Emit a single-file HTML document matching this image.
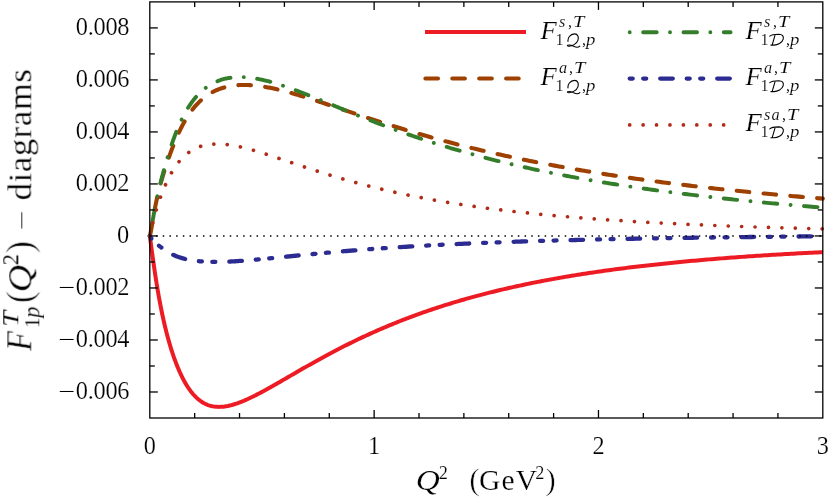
<!DOCTYPE html>
<html><head><meta charset="utf-8"><title>chart</title><style>html,body{margin:0;padding:0;background:#fff}svg{display:block}</style></head><body>
<svg width="831" height="499" viewBox="0 0 831 499">
<rect width="831" height="499" fill="#fff"/>
<g fill="none" stroke-linejoin="round">
<path d="M149.80,235.96 L149.80,235.98 L149.81,236.03 L149.82,236.13 L149.84,236.27 L149.87,236.44 L149.90,236.65 L149.93,236.90 L149.97,237.20 L150.02,237.53 L150.07,237.90 L150.13,238.31 L150.19,238.76 L150.26,239.24 L150.33,239.77 L150.41,240.35 L150.49,240.96 L150.58,241.61 L150.68,242.30 L150.78,243.03 L150.88,243.81 L150.99,244.62 L151.11,245.47 L151.23,246.37 L151.36,247.30 L151.49,248.28 L151.63,249.29 L151.77,250.34 L151.92,251.43 L152.07,252.56 L152.23,253.72 L152.40,254.92 L152.57,256.16 L152.74,257.43 L152.92,258.73 L153.11,260.07 L153.30,261.44 L153.50,262.83 L153.70,264.26 L153.91,265.72 L154.12,267.20 L154.34,268.71 L154.57,270.24 L154.80,271.79 L155.03,273.37 L155.27,274.97 L155.52,276.58 L155.77,278.22 L156.03,279.87 L156.29,281.53 L156.56,283.21 L156.83,284.90 L157.11,286.61 L157.39,288.32 L157.68,290.04 L157.98,291.77 L158.28,293.50 L158.58,295.24 L158.89,296.99 L159.21,298.73 L159.53,300.48 L159.86,302.23 L160.19,303.99 L160.53,305.74 L160.87,307.49 L161.22,309.23 L161.57,310.98 L161.93,312.72 L162.30,314.46 L162.67,316.19 L163.04,317.91 L163.42,319.64 L163.81,321.35 L164.20,323.06 L164.60,324.76 L165.00,326.45 L165.41,328.13 L165.82,329.81 L166.24,331.47 L166.67,333.13 L167.10,334.78 L167.53,336.41 L167.97,338.04 L168.42,339.65 L168.87,341.26 L169.33,342.85 L169.79,344.43 L170.26,346.00 L170.73,347.55 L171.21,349.09 L171.69,350.62 L172.18,352.13 L172.68,353.63 L173.18,355.12 L173.68,356.59 L174.19,358.05 L174.71,359.49 L175.23,360.91 L175.76,362.32 L176.29,363.71 L176.83,365.08 L177.37,366.44 L177.92,367.78 L178.47,369.10 L179.03,370.40 L179.60,371.69 L180.17,372.95 L180.74,374.19 L181.33,375.42 L181.91,376.62 L182.50,377.81 L183.10,378.97 L183.70,380.11 L184.31,381.23 L184.93,382.32 L185.54,383.40 L186.17,384.45 L186.80,385.48 L187.43,386.49 L188.07,387.47 L188.72,388.43 L189.37,389.37 L190.03,390.28 L190.69,391.17 L191.36,392.03 L192.03,392.87 L192.71,393.69 L193.39,394.48 L194.08,395.24 L194.78,395.98 L195.48,396.70 L196.18,397.39 L196.89,398.05 L197.61,398.69 L198.33,399.31 L199.06,399.90 L199.79,400.46 L200.53,401.00 L201.27,401.52 L202.02,402.01 L202.77,402.48 L203.53,402.92 L204.30,403.34 L205.07,403.73 L205.85,404.10 L206.63,404.44 L207.41,404.76 L208.20,405.06 L209.00,405.34 L209.80,405.59 L210.61,405.81 L211.43,406.02 L212.25,406.20 L213.07,406.36 L213.90,406.50 L214.73,406.62 L215.58,406.71 L216.42,406.78 L217.27,406.84 L218.13,406.87 L218.99,406.88 L219.86,406.87 L220.73,406.84 L221.61,406.79 L222.49,406.73 L223.38,406.64 L224.28,406.54 L225.18,406.41 L226.08,406.27 L226.99,406.11 L227.91,405.94 L228.83,405.74 L229.76,405.53 L230.69,405.31 L231.63,405.06 L232.57,404.80 L233.52,404.53 L234.48,404.24 L235.44,403.94 L236.40,403.62 L237.37,403.29 L238.35,402.94 L239.33,402.58 L240.31,402.20 L241.31,401.82 L242.30,401.42 L243.31,401.01 L244.31,400.58 L245.33,400.14 L246.35,399.70 L247.37,399.24 L248.40,398.77 L249.44,398.29 L250.48,397.80 L251.52,397.29 L252.57,396.78 L253.63,396.26 L254.69,395.73 L255.76,395.19 L256.83,394.64 L257.91,394.08 L259.00,393.52 L260.09,392.94 L261.18,392.36 L262.28,391.77 L263.39,391.17 L264.50,390.57 L265.61,389.96 L266.73,389.34 L267.86,388.72 L268.99,388.08 L270.13,387.45 L271.27,386.80 L272.42,386.15 L273.58,385.50 L274.74,384.84 L275.90,384.17 L277.07,383.50 L278.25,382.83 L279.43,382.15 L280.62,381.47 L281.81,380.78 L283.00,380.09 L284.21,379.39 L285.42,378.69 L286.63,377.99 L287.85,377.28 L289.07,376.57 L290.30,375.86 L291.54,375.14 L292.78,374.42 L294.02,373.70 L295.28,372.98 L296.53,372.25 L297.79,371.52 L299.06,370.79 L300.34,370.06 L301.61,369.33 L302.90,368.59 L304.19,367.85 L305.48,367.11 L306.78,366.37 L308.09,365.63 L309.40,364.89 L310.71,364.15 L312.04,363.41 L313.36,362.66 L314.70,361.92 L316.03,361.17 L317.38,360.43 L318.73,359.68 L320.08,358.93 L321.44,358.19 L322.80,357.44 L324.17,356.70 L325.55,355.95 L326.93,355.21 L328.32,354.46 L329.71,353.72 L331.11,352.97 L332.51,352.23 L333.92,351.49 L335.33,350.75 L336.75,350.01 L338.17,349.27 L339.60,348.53 L341.04,347.80 L342.48,347.06 L343.93,346.33 L345.38,345.59 L346.83,344.86 L348.30,344.13 L349.76,343.40 L351.24,342.68 L352.72,341.95 L354.20,341.23 L355.69,340.51 L357.18,339.79 L358.68,339.07 L360.19,338.36 L361.70,337.64 L363.22,336.93 L364.74,336.22 L366.26,335.52 L367.80,334.81 L369.33,334.11 L370.88,333.41 L372.43,332.71 L373.98,332.02 L375.54,331.33 L377.11,330.64 L378.68,329.95 L380.25,329.26 L381.83,328.58 L383.42,327.90 L385.01,327.23 L386.61,326.55 L388.21,325.88 L389.82,325.21 L391.43,324.55 L393.05,323.89 L394.68,323.23 L396.31,322.57 L397.94,321.92 L399.58,321.26 L401.23,320.62 L402.88,319.97 L404.54,319.33 L406.20,318.69 L407.87,318.06 L409.54,317.43 L411.22,316.80 L412.90,316.17 L414.59,315.55 L416.29,314.93 L417.99,314.31 L419.69,313.70 L421.40,313.09 L423.12,312.48 L424.84,311.88 L426.57,311.28 L428.30,310.68 L430.04,310.09 L431.78,309.50 L433.53,308.91 L435.28,308.33 L437.04,307.75 L438.81,307.17 L440.58,306.60 L442.35,306.03 L444.13,305.46 L445.92,304.90 L447.71,304.34 L449.51,303.79 L451.31,303.23 L453.12,302.68 L454.94,302.14 L456.75,301.60 L458.58,301.06 L460.41,300.52 L462.24,299.99 L464.08,299.46 L465.93,298.93 L467.78,298.41 L469.64,297.89 L471.50,297.38 L473.37,296.87 L475.24,296.36 L477.12,295.85 L479.00,295.35 L480.89,294.85 L482.79,294.36 L484.69,293.87 L486.59,293.38 L488.50,292.89 L490.42,292.41 L492.34,291.94 L494.27,291.46 L496.20,290.99 L498.14,290.52 L500.08,290.06 L502.03,289.60 L503.99,289.14 L505.95,288.68 L507.91,288.23 L509.88,287.78 L511.86,287.34 L513.84,286.90 L515.82,286.46 L517.82,286.03 L519.81,285.59 L521.82,285.17 L523.82,284.74 L525.84,284.32 L527.86,283.90 L529.88,283.48 L531.91,283.07 L533.95,282.66 L535.99,282.26 L538.03,281.85 L540.08,281.45 L542.14,281.06 L544.20,280.66 L546.27,280.27 L548.34,279.89 L550.42,279.50 L552.51,279.12 L554.60,278.74 L556.69,278.37 L558.79,278.00 L560.90,277.63 L563.01,277.26 L565.12,276.90 L567.24,276.54 L569.37,276.18 L571.50,275.83 L573.64,275.47 L575.79,275.13 L577.93,274.78 L580.09,274.44 L582.25,274.10 L584.41,273.76 L586.58,273.43 L588.76,273.10 L590.94,272.77 L593.13,272.44 L595.32,272.12 L597.52,271.80 L599.72,271.48 L601.93,271.17 L604.14,270.85 L606.36,270.54 L608.58,270.24 L610.81,269.93 L613.05,269.63 L615.29,269.33 L617.54,269.04 L619.79,268.74 L622.04,268.45 L624.31,268.17 L626.57,267.88 L628.85,267.60 L631.13,267.32 L633.41,267.04 L635.70,266.76 L637.99,266.49 L640.29,266.22 L642.60,265.95 L644.91,265.68 L647.23,265.42 L649.55,265.16 L651.87,264.90 L654.21,264.65 L656.55,264.39 L658.89,264.14 L661.24,263.89 L663.59,263.64 L665.95,263.40 L668.32,263.16 L670.69,262.92 L673.06,262.68 L675.44,262.45 L677.83,262.21 L680.22,261.98 L682.62,261.75 L685.02,261.53 L687.43,261.30 L689.84,261.08 L692.26,260.86 L694.69,260.64 L697.12,260.42 L699.55,260.21 L701.99,260.00 L704.44,259.79 L706.89,259.58 L709.35,259.38 L711.81,259.17 L714.28,258.97 L716.75,258.77 L719.23,258.57 L721.71,258.38 L724.20,258.18 L726.70,257.99 L729.20,257.80 L731.70,257.61 L734.21,257.43 L736.73,257.24 L739.25,257.06 L741.78,256.88 L744.31,256.70 L746.85,256.53 L749.39,256.35 L751.94,256.18 L754.49,256.01 L757.05,255.84 L759.62,255.67 L762.19,255.50 L764.77,255.34 L767.35,255.18 L769.93,255.01 L772.53,254.85 L775.12,254.70 L777.73,254.54 L780.33,254.39 L782.95,254.23 L785.57,254.08 L788.19,253.93 L790.82,253.79 L793.46,253.64 L796.10,253.49 L798.74,253.35 L801.39,253.21 L804.05,253.07 L806.71,252.93 L809.38,252.79 L812.05,252.66 L814.73,252.52 L817.42,252.39 L820.11,252.26 L822.80,252.13" stroke="#ed1c24" stroke-width="4.00" stroke-linecap="butt"/>
<path d="M149.80,235.96 L149.80,235.95 L149.81,235.92 L149.82,235.87 L149.84,235.81 L149.87,235.73 L149.90,235.62 L149.93,235.49 L149.97,235.34 L150.02,235.17 L150.07,234.97 L150.13,234.74 L150.19,234.49 L150.26,234.20 L150.33,233.88 L150.41,233.53 L150.49,233.14 L150.58,232.72 L150.68,232.26 L150.78,231.77 L150.88,231.23 L150.99,230.65 L151.11,230.04 L151.23,229.38 L151.36,228.68 L151.49,227.94 L151.63,227.17 L151.77,226.35 L151.92,225.50 L152.07,224.60 L152.23,223.68 L152.40,222.71 L152.57,221.72 L152.74,220.69 L152.92,219.63 L153.11,218.55 L153.30,217.44 L153.50,216.30 L153.70,215.15 L153.91,213.98 L154.12,212.78 L154.34,211.58 L154.57,210.36 L154.80,209.12 L155.03,207.88 L155.27,206.63 L155.52,205.38 L155.77,204.12 L156.03,202.85 L156.29,201.59 L156.56,200.32 L156.83,199.05 L157.11,197.78 L157.39,196.52 L157.68,195.25 L157.98,193.99 L158.28,192.72 L158.58,191.47 L158.89,190.21 L159.21,188.95 L159.53,187.70 L159.86,186.45 L160.19,185.20 L160.53,183.95 L160.87,182.71 L161.22,181.46 L161.57,180.21 L161.93,178.97 L162.30,177.72 L162.67,176.47 L163.04,175.22 L163.42,173.97 L163.81,172.72 L164.20,171.46 L164.60,170.21 L165.00,168.95 L165.41,167.68 L165.82,166.42 L166.24,165.15 L166.67,163.87 L167.10,162.60 L167.53,161.32 L167.97,160.04 L168.42,158.76 L168.87,157.48 L169.33,156.19 L169.79,154.91 L170.26,153.62 L170.73,152.33 L171.21,151.05 L171.69,149.76 L172.18,148.48 L172.68,147.20 L173.18,145.92 L173.68,144.65 L174.19,143.38 L174.71,142.11 L175.23,140.85 L175.76,139.60 L176.29,138.35 L176.83,137.11 L177.37,135.88 L177.92,134.66 L178.47,133.45 L179.03,132.25 L179.60,131.05 L180.17,129.87 L180.74,128.70 L181.33,127.55 L181.91,126.40 L182.50,125.27 L183.10,124.15 L183.70,123.05 L184.31,121.96 L184.93,120.88 L185.54,119.82 L186.17,118.78 L186.80,117.75 L187.43,116.74 L188.07,115.74 L188.72,114.76 L189.37,113.80 L190.03,112.85 L190.69,111.92 L191.36,111.01 L192.03,110.11 L192.71,109.23 L193.39,108.37 L194.08,107.52 L194.78,106.69 L195.48,105.88 L196.18,105.09 L196.89,104.31 L197.61,103.55 L198.33,102.81 L199.06,102.08 L199.79,101.37 L200.53,100.68 L201.27,100.01 L202.02,99.35 L202.77,98.71 L203.53,98.08 L204.30,97.47 L205.07,96.88 L205.85,96.30 L206.63,95.74 L207.41,95.19 L208.20,94.66 L209.00,94.15 L209.80,93.65 L210.61,93.17 L211.43,92.70 L212.25,92.25 L213.07,91.81 L213.90,91.39 L214.73,90.98 L215.58,90.59 L216.42,90.21 L217.27,89.84 L218.13,89.49 L218.99,89.16 L219.86,88.83 L220.73,88.52 L221.61,88.23 L222.49,87.95 L223.38,87.68 L224.28,87.42 L225.18,87.18 L226.08,86.95 L226.99,86.74 L227.91,86.54 L228.83,86.35 L229.76,86.17 L230.69,86.00 L231.63,85.85 L232.57,85.71 L233.52,85.58 L234.48,85.47 L235.44,85.36 L236.40,85.27 L237.37,85.19 L238.35,85.12 L239.33,85.06 L240.31,85.01 L241.31,84.98 L242.30,84.95 L243.31,84.94 L244.31,84.94 L245.33,84.95 L246.35,84.96 L247.37,84.99 L248.40,85.03 L249.44,85.08 L250.48,85.14 L251.52,85.21 L252.57,85.30 L253.63,85.39 L254.69,85.49 L255.76,85.59 L256.83,85.71 L257.91,85.84 L259.00,85.98 L260.09,86.13 L261.18,86.28 L262.28,86.45 L263.39,86.62 L264.50,86.80 L265.61,86.99 L266.73,87.19 L267.86,87.40 L268.99,87.61 L270.13,87.83 L271.27,88.07 L272.42,88.30 L273.58,88.55 L274.74,88.81 L275.90,89.07 L277.07,89.34 L278.25,89.61 L279.43,89.89 L280.62,90.18 L281.81,90.48 L283.00,90.78 L284.21,91.09 L285.42,91.41 L286.63,91.73 L287.85,92.06 L289.07,92.40 L290.30,92.74 L291.54,93.08 L292.78,93.44 L294.02,93.79 L295.28,94.16 L296.53,94.53 L297.79,94.90 L299.06,95.28 L300.34,95.66 L301.61,96.05 L302.90,96.44 L304.19,96.84 L305.48,97.25 L306.78,97.65 L308.09,98.06 L309.40,98.48 L310.71,98.90 L312.04,99.32 L313.36,99.75 L314.70,100.18 L316.03,100.62 L317.38,101.06 L318.73,101.50 L320.08,101.94 L321.44,102.39 L322.80,102.85 L324.17,103.30 L325.55,103.76 L326.93,104.22 L328.32,104.68 L329.71,105.15 L331.11,105.62 L332.51,106.09 L333.92,106.56 L335.33,107.04 L336.75,107.52 L338.17,108.00 L339.60,108.48 L341.04,108.96 L342.48,109.45 L343.93,109.94 L345.38,110.43 L346.83,110.92 L348.30,111.41 L349.76,111.90 L351.24,112.40 L352.72,112.89 L354.20,113.39 L355.69,113.89 L357.18,114.39 L358.68,114.89 L360.19,115.39 L361.70,115.90 L363.22,116.40 L364.74,116.90 L366.26,117.41 L367.80,117.91 L369.33,118.42 L370.88,118.93 L372.43,119.43 L373.98,119.94 L375.54,120.45 L377.11,120.96 L378.68,121.46 L380.25,121.97 L381.83,122.48 L383.42,122.99 L385.01,123.50 L386.61,124.00 L388.21,124.51 L389.82,125.02 L391.43,125.53 L393.05,126.03 L394.68,126.54 L396.31,127.05 L397.94,127.55 L399.58,128.06 L401.23,128.56 L402.88,129.06 L404.54,129.57 L406.20,130.07 L407.87,130.57 L409.54,131.07 L411.22,131.57 L412.90,132.07 L414.59,132.57 L416.29,133.07 L417.99,133.57 L419.69,134.06 L421.40,134.56 L423.12,135.05 L424.84,135.55 L426.57,136.04 L428.30,136.53 L430.04,137.02 L431.78,137.51 L433.53,138.00 L435.28,138.48 L437.04,138.97 L438.81,139.45 L440.58,139.94 L442.35,140.42 L444.13,140.90 L445.92,141.38 L447.71,141.85 L449.51,142.33 L451.31,142.80 L453.12,143.28 L454.94,143.75 L456.75,144.22 L458.58,144.69 L460.41,145.16 L462.24,145.62 L464.08,146.09 L465.93,146.55 L467.78,147.01 L469.64,147.47 L471.50,147.93 L473.37,148.38 L475.24,148.84 L477.12,149.29 L479.00,149.74 L480.89,150.19 L482.79,150.64 L484.69,151.09 L486.59,151.53 L488.50,151.98 L490.42,152.42 L492.34,152.86 L494.27,153.30 L496.20,153.74 L498.14,154.17 L500.08,154.60 L502.03,155.03 L503.99,155.46 L505.95,155.89 L507.91,156.32 L509.88,156.74 L511.86,157.17 L513.84,157.59 L515.82,158.01 L517.82,158.42 L519.81,158.84 L521.82,159.25 L523.82,159.67 L525.84,160.08 L527.86,160.49 L529.88,160.89 L531.91,161.30 L533.95,161.70 L535.99,162.10 L538.03,162.50 L540.08,162.90 L542.14,163.30 L544.20,163.69 L546.27,164.08 L548.34,164.47 L550.42,164.86 L552.51,165.25 L554.60,165.64 L556.69,166.02 L558.79,166.40 L560.90,166.78 L563.01,167.16 L565.12,167.54 L567.24,167.91 L569.37,168.29 L571.50,168.66 L573.64,169.03 L575.79,169.39 L577.93,169.76 L580.09,170.13 L582.25,170.49 L584.41,170.85 L586.58,171.21 L588.76,171.57 L590.94,171.92 L593.13,172.27 L595.32,172.63 L597.52,172.98 L599.72,173.33 L601.93,173.67 L604.14,174.02 L606.36,174.36 L608.58,174.70 L610.81,175.04 L613.05,175.38 L615.29,175.72 L617.54,176.05 L619.79,176.39 L622.04,176.72 L624.31,177.05 L626.57,177.38 L628.85,177.71 L631.13,178.03 L633.41,178.35 L635.70,178.68 L637.99,179.00 L640.29,179.32 L642.60,179.63 L644.91,179.95 L647.23,180.26 L649.55,180.57 L651.87,180.88 L654.21,181.19 L656.55,181.50 L658.89,181.81 L661.24,182.11 L663.59,182.41 L665.95,182.72 L668.32,183.02 L670.69,183.31 L673.06,183.61 L675.44,183.90 L677.83,184.20 L680.22,184.49 L682.62,184.78 L685.02,185.07 L687.43,185.36 L689.84,185.64 L692.26,185.93 L694.69,186.21 L697.12,186.49 L699.55,186.77 L701.99,187.05 L704.44,187.33 L706.89,187.60 L709.35,187.88 L711.81,188.15 L714.28,188.42 L716.75,188.69 L719.23,188.96 L721.71,189.23 L724.20,189.49 L726.70,189.76 L729.20,190.02 L731.70,190.28 L734.21,190.54 L736.73,190.80 L739.25,191.06 L741.78,191.32 L744.31,191.57 L746.85,191.82 L749.39,192.08 L751.94,192.33 L754.49,192.58 L757.05,192.83 L759.62,193.07 L762.19,193.32 L764.77,193.56 L767.35,193.81 L769.93,194.05 L772.53,194.29 L775.12,194.53 L777.73,194.77 L780.33,195.00 L782.95,195.24 L785.57,195.47 L788.19,195.70 L790.82,195.94 L793.46,196.17 L796.10,196.40 L798.74,196.62 L801.39,196.85 L804.05,197.08 L806.71,197.30 L809.38,197.53 L812.05,197.75 L814.73,197.97 L817.42,198.19 L820.11,198.41 L822.80,198.63" stroke="#9e4000" stroke-width="4.10" stroke-linecap="round" stroke-dasharray="12.6 14.3"/>
<path d="M149.80,235.96 L149.80,235.94 L149.81,235.91 L149.82,235.85 L149.84,235.77 L149.87,235.67 L149.90,235.54 L149.93,235.39 L149.97,235.21 L150.02,235.00 L150.07,234.77 L150.13,234.51 L150.19,234.21 L150.26,233.89 L150.33,233.54 L150.41,233.15 L150.49,232.73 L150.58,232.28 L150.68,231.79 L150.78,231.27 L150.88,230.71 L150.99,230.11 L151.11,229.48 L151.23,228.81 L151.36,228.10 L151.49,227.36 L151.63,226.59 L151.77,225.78 L151.92,224.93 L152.07,224.05 L152.23,223.14 L152.40,222.20 L152.57,221.23 L152.74,220.23 L152.92,219.20 L153.11,218.15 L153.30,217.07 L153.50,215.97 L153.70,214.85 L153.91,213.70 L154.12,212.54 L154.34,211.36 L154.57,210.17 L154.80,208.95 L155.03,207.73 L155.27,206.49 L155.52,205.24 L155.77,203.98 L156.03,202.72 L156.29,201.44 L156.56,200.15 L156.83,198.86 L157.11,197.56 L157.39,196.25 L157.68,194.93 L157.98,193.61 L158.28,192.29 L158.58,190.95 L158.89,189.62 L159.21,188.27 L159.53,186.92 L159.86,185.57 L160.19,184.21 L160.53,182.84 L160.87,181.47 L161.22,180.09 L161.57,178.71 L161.93,177.32 L162.30,175.93 L162.67,174.53 L163.04,173.13 L163.42,171.72 L163.81,170.30 L164.20,168.88 L164.60,167.46 L165.00,166.03 L165.41,164.59 L165.82,163.16 L166.24,161.72 L166.67,160.28 L167.10,158.83 L167.53,157.39 L167.97,155.94 L168.42,154.49 L168.87,153.05 L169.33,151.60 L169.79,150.16 L170.26,148.71 L170.73,147.28 L171.21,145.84 L171.69,144.41 L172.18,142.99 L172.68,141.57 L173.18,140.16 L173.68,138.75 L174.19,137.35 L174.71,135.97 L175.23,134.59 L175.76,133.22 L176.29,131.87 L176.83,130.52 L177.37,129.19 L177.92,127.87 L178.47,126.56 L179.03,125.27 L179.60,123.99 L180.17,122.73 L180.74,121.48 L181.33,120.25 L181.91,119.03 L182.50,117.83 L183.10,116.65 L183.70,115.48 L184.31,114.34 L184.93,113.20 L185.54,112.09 L186.17,111.00 L186.80,109.92 L187.43,108.86 L188.07,107.82 L188.72,106.80 L189.37,105.79 L190.03,104.81 L190.69,103.84 L191.36,102.89 L192.03,101.96 L192.71,101.05 L193.39,100.16 L194.08,99.28 L194.78,98.43 L195.48,97.59 L196.18,96.77 L196.89,95.97 L197.61,95.19 L198.33,94.43 L199.06,93.68 L199.79,92.95 L200.53,92.24 L201.27,91.55 L202.02,90.87 L202.77,90.22 L203.53,89.58 L204.30,88.96 L205.07,88.35 L205.85,87.76 L206.63,87.19 L207.41,86.64 L208.20,86.10 L209.00,85.58 L209.80,85.08 L210.61,84.59 L211.43,84.12 L212.25,83.66 L213.07,83.22 L213.90,82.80 L214.73,82.39 L215.58,82.00 L216.42,81.63 L217.27,81.27 L218.13,80.92 L218.99,80.59 L219.86,80.28 L220.73,79.98 L221.61,79.70 L222.49,79.43 L223.38,79.18 L224.28,78.94 L225.18,78.72 L226.08,78.51 L226.99,78.31 L227.91,78.13 L228.83,77.97 L229.76,77.81 L230.69,77.68 L231.63,77.55 L232.57,77.44 L233.52,77.35 L234.48,77.26 L235.44,77.20 L236.40,77.14 L237.37,77.10 L238.35,77.07 L239.33,77.05 L240.31,77.05 L241.31,77.06 L242.30,77.08 L243.31,77.12 L244.31,77.17 L245.33,77.23 L246.35,77.30 L247.37,77.39 L248.40,77.49 L249.44,77.59 L250.48,77.72 L251.52,77.85 L252.57,77.99 L253.63,78.15 L254.69,78.31 L255.76,78.49 L256.83,78.68 L257.91,78.88 L259.00,79.09 L260.09,79.31 L261.18,79.54 L262.28,79.78 L263.39,80.04 L264.50,80.30 L265.61,80.57 L266.73,80.85 L267.86,81.14 L268.99,81.44 L270.13,81.75 L271.27,82.07 L272.42,82.40 L273.58,82.73 L274.74,83.08 L275.90,83.43 L277.07,83.79 L278.25,84.16 L279.43,84.54 L280.62,84.92 L281.81,85.32 L283.00,85.72 L284.21,86.12 L285.42,86.54 L286.63,86.96 L287.85,87.39 L289.07,87.83 L290.30,88.27 L291.54,88.72 L292.78,89.17 L294.02,89.63 L295.28,90.10 L296.53,90.57 L297.79,91.05 L299.06,91.54 L300.34,92.03 L301.61,92.52 L302.90,93.02 L304.19,93.53 L305.48,94.04 L306.78,94.55 L308.09,95.07 L309.40,95.59 L310.71,96.12 L312.04,96.65 L313.36,97.19 L314.70,97.73 L316.03,98.27 L317.38,98.82 L318.73,99.37 L320.08,99.92 L321.44,100.48 L322.80,101.04 L324.17,101.61 L325.55,102.17 L326.93,102.74 L328.32,103.31 L329.71,103.89 L331.11,104.46 L332.51,105.04 L333.92,105.62 L335.33,106.21 L336.75,106.79 L338.17,107.38 L339.60,107.97 L341.04,108.56 L342.48,109.15 L343.93,109.74 L345.38,110.33 L346.83,110.93 L348.30,111.53 L349.76,112.12 L351.24,112.72 L352.72,113.32 L354.20,113.92 L355.69,114.52 L357.18,115.13 L358.68,115.73 L360.19,116.33 L361.70,116.93 L363.22,117.54 L364.74,118.14 L366.26,118.74 L367.80,119.35 L369.33,119.95 L370.88,120.55 L372.43,121.15 L373.98,121.76 L375.54,122.36 L377.11,122.96 L378.68,123.56 L380.25,124.16 L381.83,124.76 L383.42,125.36 L385.01,125.96 L386.61,126.56 L388.21,127.16 L389.82,127.76 L391.43,128.35 L393.05,128.95 L394.68,129.54 L396.31,130.13 L397.94,130.72 L399.58,131.31 L401.23,131.90 L402.88,132.49 L404.54,133.08 L406.20,133.66 L407.87,134.25 L409.54,134.83 L411.22,135.41 L412.90,135.99 L414.59,136.57 L416.29,137.14 L417.99,137.72 L419.69,138.29 L421.40,138.86 L423.12,139.43 L424.84,140.00 L426.57,140.56 L428.30,141.13 L430.04,141.69 L431.78,142.25 L433.53,142.81 L435.28,143.37 L437.04,143.92 L438.81,144.47 L440.58,145.02 L442.35,145.57 L444.13,146.12 L445.92,146.66 L447.71,147.21 L449.51,147.75 L451.31,148.29 L453.12,148.82 L454.94,149.36 L456.75,149.89 L458.58,150.42 L460.41,150.95 L462.24,151.47 L464.08,151.99 L465.93,152.51 L467.78,153.03 L469.64,153.55 L471.50,154.06 L473.37,154.58 L475.24,155.09 L477.12,155.59 L479.00,156.10 L480.89,156.60 L482.79,157.10 L484.69,157.60 L486.59,158.10 L488.50,158.59 L490.42,159.08 L492.34,159.57 L494.27,160.06 L496.20,160.54 L498.14,161.02 L500.08,161.50 L502.03,161.98 L503.99,162.45 L505.95,162.93 L507.91,163.40 L509.88,163.86 L511.86,164.33 L513.84,164.79 L515.82,165.25 L517.82,165.71 L519.81,166.17 L521.82,166.62 L523.82,167.07 L525.84,167.52 L527.86,167.97 L529.88,168.41 L531.91,168.85 L533.95,169.29 L535.99,169.73 L538.03,170.16 L540.08,170.60 L542.14,171.03 L544.20,171.45 L546.27,171.88 L548.34,172.30 L550.42,172.72 L552.51,173.14 L554.60,173.56 L556.69,173.97 L558.79,174.38 L560.90,174.79 L563.01,175.20 L565.12,175.60 L567.24,176.01 L569.37,176.41 L571.50,176.80 L573.64,177.20 L575.79,177.59 L577.93,177.98 L580.09,178.37 L582.25,178.76 L584.41,179.15 L586.58,179.53 L588.76,179.91 L590.94,180.29 L593.13,180.66 L595.32,181.04 L597.52,181.41 L599.72,181.78 L601.93,182.14 L604.14,182.51 L606.36,182.87 L608.58,183.23 L610.81,183.59 L613.05,183.95 L615.29,184.30 L617.54,184.66 L619.79,185.01 L622.04,185.35 L624.31,185.70 L626.57,186.04 L628.85,186.39 L631.13,186.73 L633.41,187.07 L635.70,187.40 L637.99,187.74 L640.29,188.07 L642.60,188.40 L644.91,188.73 L647.23,189.05 L649.55,189.38 L651.87,189.70 L654.21,190.02 L656.55,190.34 L658.89,190.65 L661.24,190.97 L663.59,191.28 L665.95,191.59 L668.32,191.90 L670.69,192.21 L673.06,192.51 L675.44,192.82 L677.83,193.12 L680.22,193.42 L682.62,193.72 L685.02,194.01 L687.43,194.31 L689.84,194.60 L692.26,194.89 L694.69,195.18 L697.12,195.47 L699.55,195.75 L701.99,196.04 L704.44,196.32 L706.89,196.60 L709.35,196.88 L711.81,197.16 L714.28,197.43 L716.75,197.71 L719.23,197.98 L721.71,198.25 L724.20,198.52 L726.70,198.78 L729.20,199.05 L731.70,199.31 L734.21,199.57 L736.73,199.84 L739.25,200.09 L741.78,200.35 L744.31,200.61 L746.85,200.86 L749.39,201.11 L751.94,201.37 L754.49,201.62 L757.05,201.86 L759.62,202.11 L762.19,202.36 L764.77,202.60 L767.35,202.84 L769.93,203.08 L772.53,203.32 L775.12,203.56 L777.73,203.80 L780.33,204.03 L782.95,204.26 L785.57,204.50 L788.19,204.73 L790.82,204.96 L793.46,205.18 L796.10,205.41 L798.74,205.63 L801.39,205.86 L804.05,206.08 L806.71,206.30 L809.38,206.52 L812.05,206.74 L814.73,206.96 L817.42,207.17 L820.11,207.39 L822.80,207.60" stroke="#347e2b" stroke-width="3.90" stroke-linecap="round" stroke-dasharray="0.01 13.44 13.54 13.33"/>
<path d="M149.80,235.96 L149.80,235.96 L149.81,235.98 L149.82,236.00 L149.84,236.04 L149.87,236.09 L149.90,236.15 L149.93,236.21 L149.97,236.29 L150.02,236.38 L150.07,236.47 L150.13,236.57 L150.19,236.69 L150.26,236.80 L150.33,236.93 L150.41,237.06 L150.49,237.20 L150.58,237.35 L150.68,237.50 L150.78,237.65 L150.88,237.81 L150.99,237.98 L151.11,238.14 L151.23,238.31 L151.36,238.49 L151.49,238.66 L151.63,238.84 L151.77,239.02 L151.92,239.21 L152.07,239.39 L152.23,239.58 L152.40,239.77 L152.57,239.96 L152.74,240.15 L152.92,240.34 L153.11,240.53 L153.30,240.73 L153.50,240.93 L153.70,241.13 L153.91,241.33 L154.12,241.53 L154.34,241.73 L154.57,241.94 L154.80,242.15 L155.03,242.36 L155.27,242.57 L155.52,242.79 L155.77,243.01 L156.03,243.23 L156.29,243.45 L156.56,243.68 L156.83,243.91 L157.11,244.14 L157.39,244.37 L157.68,244.61 L157.98,244.85 L158.28,245.10 L158.58,245.35 L158.89,245.60 L159.21,245.85 L159.53,246.11 L159.86,246.36 L160.19,246.63 L160.53,246.89 L160.87,247.15 L161.22,247.42 L161.57,247.69 L161.93,247.96 L162.30,248.23 L162.67,248.51 L163.04,248.78 L163.42,249.06 L163.81,249.33 L164.20,249.61 L164.60,249.88 L165.00,250.16 L165.41,250.43 L165.82,250.71 L166.24,250.98 L166.67,251.25 L167.10,251.52 L167.53,251.79 L167.97,252.06 L168.42,252.33 L168.87,252.59 L169.33,252.85 L169.79,253.11 L170.26,253.36 L170.73,253.62 L171.21,253.87 L171.69,254.11 L172.18,254.36 L172.68,254.60 L173.18,254.84 L173.68,255.07 L174.19,255.30 L174.71,255.53 L175.23,255.75 L175.76,255.97 L176.29,256.18 L176.83,256.39 L177.37,256.60 L177.92,256.80 L178.47,257.00 L179.03,257.19 L179.60,257.38 L180.17,257.57 L180.74,257.75 L181.33,257.93 L181.91,258.10 L182.50,258.27 L183.10,258.44 L183.70,258.60 L184.31,258.76 L184.93,258.91 L185.54,259.06 L186.17,259.20 L186.80,259.34 L187.43,259.48 L188.07,259.61 L188.72,259.74 L189.37,259.86 L190.03,259.99 L190.69,260.10 L191.36,260.21 L192.03,260.32 L192.71,260.43 L193.39,260.53 L194.08,260.63 L194.78,260.72 L195.48,260.81 L196.18,260.90 L196.89,260.98 L197.61,261.06 L198.33,261.13 L199.06,261.20 L199.79,261.27 L200.53,261.33 L201.27,261.39 L202.02,261.45 L202.77,261.50 L203.53,261.55 L204.30,261.60 L205.07,261.64 L205.85,261.68 L206.63,261.72 L207.41,261.75 L208.20,261.78 L209.00,261.81 L209.80,261.83 L210.61,261.85 L211.43,261.87 L212.25,261.88 L213.07,261.89 L213.90,261.90 L214.73,261.91 L215.58,261.91 L216.42,261.91 L217.27,261.90 L218.13,261.89 L218.99,261.88 L219.86,261.87 L220.73,261.85 L221.61,261.83 L222.49,261.81 L223.38,261.79 L224.28,261.76 L225.18,261.73 L226.08,261.70 L226.99,261.66 L227.91,261.62 L228.83,261.58 L229.76,261.54 L230.69,261.49 L231.63,261.44 L232.57,261.39 L233.52,261.34 L234.48,261.28 L235.44,261.23 L236.40,261.17 L237.37,261.10 L238.35,261.04 L239.33,260.97 L240.31,260.90 L241.31,260.83 L242.30,260.76 L243.31,260.69 L244.31,260.61 L245.33,260.53 L246.35,260.45 L247.37,260.37 L248.40,260.28 L249.44,260.20 L250.48,260.11 L251.52,260.02 L252.57,259.93 L253.63,259.84 L254.69,259.74 L255.76,259.65 L256.83,259.55 L257.91,259.45 L259.00,259.35 L260.09,259.25 L261.18,259.15 L262.28,259.04 L263.39,258.94 L264.50,258.83 L265.61,258.72 L266.73,258.61 L267.86,258.51 L268.99,258.39 L270.13,258.28 L271.27,258.17 L272.42,258.06 L273.58,257.94 L274.74,257.83 L275.90,257.71 L277.07,257.59 L278.25,257.47 L279.43,257.36 L280.62,257.24 L281.81,257.12 L283.00,257.00 L284.21,256.87 L285.42,256.75 L286.63,256.63 L287.85,256.51 L289.07,256.38 L290.30,256.26 L291.54,256.14 L292.78,256.01 L294.02,255.89 L295.28,255.76 L296.53,255.64 L297.79,255.51 L299.06,255.38 L300.34,255.26 L301.61,255.13 L302.90,255.00 L304.19,254.88 L305.48,254.75 L306.78,254.62 L308.09,254.50 L309.40,254.37 L310.71,254.24 L312.04,254.12 L313.36,253.99 L314.70,253.86 L316.03,253.73 L317.38,253.61 L318.73,253.48 L320.08,253.35 L321.44,253.23 L322.80,253.10 L324.17,252.97 L325.55,252.85 L326.93,252.72 L328.32,252.60 L329.71,252.47 L331.11,252.34 L332.51,252.22 L333.92,252.09 L335.33,251.97 L336.75,251.85 L338.17,251.72 L339.60,251.60 L341.04,251.47 L342.48,251.35 L343.93,251.23 L345.38,251.11 L346.83,250.99 L348.30,250.86 L349.76,250.74 L351.24,250.62 L352.72,250.50 L354.20,250.38 L355.69,250.26 L357.18,250.14 L358.68,250.03 L360.19,249.91 L361.70,249.79 L363.22,249.67 L364.74,249.56 L366.26,249.44 L367.80,249.33 L369.33,249.21 L370.88,249.10 L372.43,248.98 L373.98,248.87 L375.54,248.76 L377.11,248.65 L378.68,248.53 L380.25,248.42 L381.83,248.31 L383.42,248.20 L385.01,248.09 L386.61,247.98 L388.21,247.88 L389.82,247.77 L391.43,247.66 L393.05,247.56 L394.68,247.45 L396.31,247.34 L397.94,247.24 L399.58,247.14 L401.23,247.03 L402.88,246.93 L404.54,246.83 L406.20,246.73 L407.87,246.62 L409.54,246.52 L411.22,246.42 L412.90,246.32 L414.59,246.23 L416.29,246.13 L417.99,246.03 L419.69,245.93 L421.40,245.84 L423.12,245.74 L424.84,245.65 L426.57,245.55 L428.30,245.46 L430.04,245.37 L431.78,245.27 L433.53,245.18 L435.28,245.09 L437.04,245.00 L438.81,244.91 L440.58,244.82 L442.35,244.73 L444.13,244.64 L445.92,244.55 L447.71,244.47 L449.51,244.38 L451.31,244.29 L453.12,244.21 L454.94,244.12 L456.75,244.04 L458.58,243.96 L460.41,243.87 L462.24,243.79 L464.08,243.71 L465.93,243.63 L467.78,243.55 L469.64,243.47 L471.50,243.39 L473.37,243.31 L475.24,243.23 L477.12,243.15 L479.00,243.07 L480.89,243.00 L482.79,242.92 L484.69,242.85 L486.59,242.77 L488.50,242.70 L490.42,242.62 L492.34,242.55 L494.27,242.48 L496.20,242.40 L498.14,242.33 L500.08,242.26 L502.03,242.19 L503.99,242.12 L505.95,242.05 L507.91,241.98 L509.88,241.91 L511.86,241.84 L513.84,241.78 L515.82,241.71 L517.82,241.64 L519.81,241.58 L521.82,241.51 L523.82,241.45 L525.84,241.38 L527.86,241.32 L529.88,241.26 L531.91,241.19 L533.95,241.13 L535.99,241.07 L538.03,241.01 L540.08,240.94 L542.14,240.88 L544.20,240.82 L546.27,240.76 L548.34,240.71 L550.42,240.65 L552.51,240.59 L554.60,240.53 L556.69,240.47 L558.79,240.42 L560.90,240.36 L563.01,240.30 L565.12,240.25 L567.24,240.19 L569.37,240.14 L571.50,240.08 L573.64,240.03 L575.79,239.98 L577.93,239.92 L580.09,239.87 L582.25,239.82 L584.41,239.77 L586.58,239.72 L588.76,239.66 L590.94,239.61 L593.13,239.56 L595.32,239.51 L597.52,239.47 L599.72,239.42 L601.93,239.37 L604.14,239.32 L606.36,239.27 L608.58,239.22 L610.81,239.18 L613.05,239.13 L615.29,239.08 L617.54,239.04 L619.79,238.99 L622.04,238.95 L624.31,238.90 L626.57,238.86 L628.85,238.82 L631.13,238.77 L633.41,238.73 L635.70,238.69 L637.99,238.64 L640.29,238.60 L642.60,238.56 L644.91,238.52 L647.23,238.48 L649.55,238.43 L651.87,238.39 L654.21,238.35 L656.55,238.31 L658.89,238.27 L661.24,238.23 L663.59,238.20 L665.95,238.16 L668.32,238.12 L670.69,238.08 L673.06,238.04 L675.44,238.01 L677.83,237.97 L680.22,237.93 L682.62,237.89 L685.02,237.86 L687.43,237.82 L689.84,237.79 L692.26,237.75 L694.69,237.72 L697.12,237.68 L699.55,237.65 L701.99,237.61 L704.44,237.58 L706.89,237.55 L709.35,237.51 L711.81,237.48 L714.28,237.45 L716.75,237.41 L719.23,237.38 L721.71,237.35 L724.20,237.32 L726.70,237.29 L729.20,237.25 L731.70,237.22 L734.21,237.19 L736.73,237.16 L739.25,237.13 L741.78,237.10 L744.31,237.07 L746.85,237.04 L749.39,237.01 L751.94,236.98 L754.49,236.96 L757.05,236.93 L759.62,236.90 L762.19,236.87 L764.77,236.84 L767.35,236.81 L769.93,236.79 L772.53,236.76 L775.12,236.73 L777.73,236.71 L780.33,236.68 L782.95,236.65 L785.57,236.63 L788.19,236.60 L790.82,236.58 L793.46,236.55 L796.10,236.52 L798.74,236.50 L801.39,236.47 L804.05,236.45 L806.71,236.43 L809.38,236.40 L812.05,236.38 L814.73,236.35 L817.42,236.33 L820.11,236.31 L822.80,236.28" stroke="#2b2b92" stroke-width="4.30" stroke-linecap="round" stroke-dasharray="3 10.5 3 14.0 12.6 13.9"/>
<path d="M149.80,235.96 L149.80,235.94 L149.81,235.91 L149.82,235.84 L149.84,235.76 L149.87,235.64 L149.90,235.51 L149.93,235.34 L149.97,235.15 L150.02,234.94 L150.07,234.70 L150.13,234.44 L150.19,234.16 L150.26,233.84 L150.33,233.51 L150.41,233.15 L150.49,232.77 L150.58,232.36 L150.68,231.93 L150.78,231.48 L150.88,231.00 L150.99,230.50 L151.11,229.98 L151.23,229.44 L151.36,228.88 L151.49,228.30 L151.63,227.70 L151.77,227.08 L151.92,226.44 L152.07,225.78 L152.23,225.11 L152.40,224.41 L152.57,223.71 L152.74,222.99 L152.92,222.25 L153.11,221.50 L153.30,220.74 L153.50,219.96 L153.70,219.18 L153.91,218.38 L154.12,217.57 L154.34,216.75 L154.57,215.92 L154.80,215.08 L155.03,214.24 L155.27,213.38 L155.52,212.52 L155.77,211.66 L156.03,210.78 L156.29,209.90 L156.56,209.02 L156.83,208.12 L157.11,207.23 L157.39,206.33 L157.68,205.42 L157.98,204.51 L158.28,203.60 L158.58,202.68 L158.89,201.76 L159.21,200.84 L159.53,199.91 L159.86,198.98 L160.19,198.05 L160.53,197.12 L160.87,196.18 L161.22,195.25 L161.57,194.31 L161.93,193.38 L162.30,192.44 L162.67,191.50 L163.04,190.56 L163.42,189.63 L163.81,188.69 L164.20,187.76 L164.60,186.82 L165.00,185.89 L165.41,184.97 L165.82,184.04 L166.24,183.12 L166.67,182.20 L167.10,181.29 L167.53,180.38 L167.97,179.48 L168.42,178.58 L168.87,177.69 L169.33,176.80 L169.79,175.93 L170.26,175.06 L170.73,174.19 L171.21,173.34 L171.69,172.49 L172.18,171.65 L172.68,170.82 L173.18,170.00 L173.68,169.20 L174.19,168.40 L174.71,167.61 L175.23,166.83 L175.76,166.07 L176.29,165.31 L176.83,164.57 L177.37,163.84 L177.92,163.12 L178.47,162.41 L179.03,161.72 L179.60,161.04 L180.17,160.37 L180.74,159.71 L181.33,159.07 L181.91,158.44 L182.50,157.83 L183.10,157.23 L183.70,156.64 L184.31,156.07 L184.93,155.51 L185.54,154.96 L186.17,154.43 L186.80,153.91 L187.43,153.40 L188.07,152.91 L188.72,152.43 L189.37,151.97 L190.03,151.52 L190.69,151.09 L191.36,150.66 L192.03,150.25 L192.71,149.86 L193.39,149.48 L194.08,149.11 L194.78,148.76 L195.48,148.42 L196.18,148.09 L196.89,147.78 L197.61,147.47 L198.33,147.19 L199.06,146.91 L199.79,146.65 L200.53,146.40 L201.27,146.16 L202.02,145.94 L202.77,145.73 L203.53,145.53 L204.30,145.34 L205.07,145.17 L205.85,145.01 L206.63,144.86 L207.41,144.72 L208.20,144.59 L209.00,144.48 L209.80,144.37 L210.61,144.28 L211.43,144.20 L212.25,144.13 L213.07,144.08 L213.90,144.03 L214.73,143.99 L215.58,143.97 L216.42,143.95 L217.27,143.95 L218.13,143.95 L218.99,143.97 L219.86,144.00 L220.73,144.04 L221.61,144.08 L222.49,144.14 L223.38,144.20 L224.28,144.28 L225.18,144.37 L226.08,144.46 L226.99,144.56 L227.91,144.68 L228.83,144.80 L229.76,144.93 L230.69,145.07 L231.63,145.22 L232.57,145.37 L233.52,145.54 L234.48,145.71 L235.44,145.89 L236.40,146.08 L237.37,146.28 L238.35,146.48 L239.33,146.69 L240.31,146.91 L241.31,147.14 L242.30,147.37 L243.31,147.61 L244.31,147.86 L245.33,148.11 L246.35,148.37 L247.37,148.64 L248.40,148.91 L249.44,149.19 L250.48,149.47 L251.52,149.76 L252.57,150.06 L253.63,150.36 L254.69,150.67 L255.76,150.98 L256.83,151.30 L257.91,151.63 L259.00,151.95 L260.09,152.29 L261.18,152.62 L262.28,152.97 L263.39,153.31 L264.50,153.67 L265.61,154.02 L266.73,154.38 L267.86,154.74 L268.99,155.11 L270.13,155.48 L271.27,155.85 L272.42,156.23 L273.58,156.61 L274.74,157.00 L275.90,157.39 L277.07,157.78 L278.25,158.17 L279.43,158.56 L280.62,158.96 L281.81,159.36 L283.00,159.77 L284.21,160.17 L285.42,160.58 L286.63,160.99 L287.85,161.40 L289.07,161.81 L290.30,162.23 L291.54,162.65 L292.78,163.07 L294.02,163.49 L295.28,163.91 L296.53,164.33 L297.79,164.75 L299.06,165.18 L300.34,165.60 L301.61,166.03 L302.90,166.46 L304.19,166.89 L305.48,167.32 L306.78,167.74 L308.09,168.17 L309.40,168.60 L310.71,169.04 L312.04,169.47 L313.36,169.90 L314.70,170.33 L316.03,170.76 L317.38,171.19 L318.73,171.62 L320.08,172.05 L321.44,172.48 L322.80,172.91 L324.17,173.34 L325.55,173.77 L326.93,174.20 L328.32,174.63 L329.71,175.05 L331.11,175.48 L332.51,175.91 L333.92,176.33 L335.33,176.76 L336.75,177.18 L338.17,177.60 L339.60,178.02 L341.04,178.44 L342.48,178.86 L343.93,179.28 L345.38,179.70 L346.83,180.11 L348.30,180.53 L349.76,180.94 L351.24,181.35 L352.72,181.76 L354.20,182.17 L355.69,182.58 L357.18,182.99 L358.68,183.39 L360.19,183.79 L361.70,184.19 L363.22,184.59 L364.74,184.99 L366.26,185.39 L367.80,185.78 L369.33,186.18 L370.88,186.57 L372.43,186.96 L373.98,187.34 L375.54,187.73 L377.11,188.11 L378.68,188.49 L380.25,188.87 L381.83,189.25 L383.42,189.63 L385.01,190.00 L386.61,190.38 L388.21,190.75 L389.82,191.11 L391.43,191.48 L393.05,191.84 L394.68,192.21 L396.31,192.57 L397.94,192.93 L399.58,193.28 L401.23,193.64 L402.88,193.99 L404.54,194.34 L406.20,194.69 L407.87,195.03 L409.54,195.37 L411.22,195.72 L412.90,196.06 L414.59,196.39 L416.29,196.73 L417.99,197.06 L419.69,197.39 L421.40,197.72 L423.12,198.05 L424.84,198.37 L426.57,198.69 L428.30,199.01 L430.04,199.33 L431.78,199.65 L433.53,199.96 L435.28,200.27 L437.04,200.58 L438.81,200.89 L440.58,201.19 L442.35,201.50 L444.13,201.80 L445.92,202.10 L447.71,202.39 L449.51,202.69 L451.31,202.98 L453.12,203.27 L454.94,203.56 L456.75,203.84 L458.58,204.13 L460.41,204.41 L462.24,204.69 L464.08,204.97 L465.93,205.24 L467.78,205.51 L469.64,205.79 L471.50,206.06 L473.37,206.32 L475.24,206.59 L477.12,206.85 L479.00,207.11 L480.89,207.37 L482.79,207.63 L484.69,207.88 L486.59,208.14 L488.50,208.39 L490.42,208.64 L492.34,208.88 L494.27,209.13 L496.20,209.37 L498.14,209.61 L500.08,209.85 L502.03,210.09 L503.99,210.32 L505.95,210.56 L507.91,210.79 L509.88,211.02 L511.86,211.25 L513.84,211.47 L515.82,211.70 L517.82,211.92 L519.81,212.14 L521.82,212.36 L523.82,212.58 L525.84,212.79 L527.86,213.00 L529.88,213.22 L531.91,213.43 L533.95,213.63 L535.99,213.84 L538.03,214.04 L540.08,214.25 L542.14,214.45 L544.20,214.65 L546.27,214.84 L548.34,215.04 L550.42,215.23 L552.51,215.43 L554.60,215.62 L556.69,215.81 L558.79,215.99 L560.90,216.18 L563.01,216.36 L565.12,216.55 L567.24,216.73 L569.37,216.91 L571.50,217.08 L573.64,217.26 L575.79,217.44 L577.93,217.61 L580.09,217.78 L582.25,217.95 L584.41,218.12 L586.58,218.29 L588.76,218.45 L590.94,218.62 L593.13,218.78 L595.32,218.94 L597.52,219.10 L599.72,219.26 L601.93,219.42 L604.14,219.57 L606.36,219.73 L608.58,219.88 L610.81,220.03 L613.05,220.18 L615.29,220.33 L617.54,220.48 L619.79,220.62 L622.04,220.77 L624.31,220.91 L626.57,221.05 L628.85,221.19 L631.13,221.33 L633.41,221.47 L635.70,221.61 L637.99,221.74 L640.29,221.88 L642.60,222.01 L644.91,222.14 L647.23,222.27 L649.55,222.40 L651.87,222.53 L654.21,222.66 L656.55,222.78 L658.89,222.91 L661.24,223.03 L663.59,223.16 L665.95,223.28 L668.32,223.40 L670.69,223.52 L673.06,223.63 L675.44,223.75 L677.83,223.87 L680.22,223.98 L682.62,224.10 L685.02,224.21 L687.43,224.32 L689.84,224.43 L692.26,224.54 L694.69,224.65 L697.12,224.76 L699.55,224.86 L701.99,224.97 L704.44,225.07 L706.89,225.17 L709.35,225.28 L711.81,225.38 L714.28,225.48 L716.75,225.58 L719.23,225.68 L721.71,225.77 L724.20,225.87 L726.70,225.97 L729.20,226.06 L731.70,226.15 L734.21,226.25 L736.73,226.34 L739.25,226.43 L741.78,226.52 L744.31,226.61 L746.85,226.70 L749.39,226.79 L751.94,226.87 L754.49,226.96 L757.05,227.04 L759.62,227.13 L762.19,227.21 L764.77,227.30 L767.35,227.38 L769.93,227.46 L772.53,227.54 L775.12,227.62 L777.73,227.70 L780.33,227.77 L782.95,227.85 L785.57,227.93 L788.19,228.00 L790.82,228.08 L793.46,228.15 L796.10,228.23 L798.74,228.30 L801.39,228.37 L804.05,228.44 L806.71,228.51 L809.38,228.58 L812.05,228.65 L814.73,228.72 L817.42,228.79 L820.11,228.86 L822.80,228.92" stroke="#b02c18" stroke-width="3.70" stroke-linecap="round" stroke-dasharray="0.01 13.41"/>
</g>
<line x1="149.80" y1="236.06" x2="822.80" y2="236.06" stroke="#000" stroke-width="1.5" stroke-dasharray="1.5 5.2" stroke-dashoffset="0.45"/>
<g stroke="#000" stroke-width="1.3" fill="none" stroke-linecap="butt">
<rect x="149.80" y="1.90" width="673.00" height="416.10"/>
<line x1="194.67" y1="418.00" x2="194.67" y2="413.00"/>
<line x1="194.67" y1="1.90" x2="194.67" y2="6.90"/>
<line x1="239.53" y1="418.00" x2="239.53" y2="413.00"/>
<line x1="239.53" y1="1.90" x2="239.53" y2="6.90"/>
<line x1="284.40" y1="418.00" x2="284.40" y2="413.00"/>
<line x1="284.40" y1="1.90" x2="284.40" y2="6.90"/>
<line x1="329.27" y1="418.00" x2="329.27" y2="413.00"/>
<line x1="329.27" y1="1.90" x2="329.27" y2="6.90"/>
<line x1="374.13" y1="418.00" x2="374.13" y2="410.00"/>
<line x1="374.13" y1="1.90" x2="374.13" y2="9.90"/>
<line x1="419.00" y1="418.00" x2="419.00" y2="413.00"/>
<line x1="419.00" y1="1.90" x2="419.00" y2="6.90"/>
<line x1="463.87" y1="418.00" x2="463.87" y2="413.00"/>
<line x1="463.87" y1="1.90" x2="463.87" y2="6.90"/>
<line x1="508.73" y1="418.00" x2="508.73" y2="413.00"/>
<line x1="508.73" y1="1.90" x2="508.73" y2="6.90"/>
<line x1="553.60" y1="418.00" x2="553.60" y2="413.00"/>
<line x1="553.60" y1="1.90" x2="553.60" y2="6.90"/>
<line x1="598.47" y1="418.00" x2="598.47" y2="410.00"/>
<line x1="598.47" y1="1.90" x2="598.47" y2="9.90"/>
<line x1="643.33" y1="418.00" x2="643.33" y2="413.00"/>
<line x1="643.33" y1="1.90" x2="643.33" y2="6.90"/>
<line x1="688.20" y1="418.00" x2="688.20" y2="413.00"/>
<line x1="688.20" y1="1.90" x2="688.20" y2="6.90"/>
<line x1="733.07" y1="418.00" x2="733.07" y2="413.00"/>
<line x1="733.07" y1="1.90" x2="733.07" y2="6.90"/>
<line x1="777.93" y1="418.00" x2="777.93" y2="413.00"/>
<line x1="777.93" y1="1.90" x2="777.93" y2="6.90"/>
<line x1="149.80" y1="27.91" x2="157.80" y2="27.91"/>
<line x1="822.80" y1="27.91" x2="814.80" y2="27.91"/>
<line x1="149.80" y1="53.91" x2="154.80" y2="53.91"/>
<line x1="822.80" y1="53.91" x2="817.80" y2="53.91"/>
<line x1="149.80" y1="79.92" x2="157.80" y2="79.92"/>
<line x1="822.80" y1="79.92" x2="814.80" y2="79.92"/>
<line x1="149.80" y1="105.93" x2="154.80" y2="105.93"/>
<line x1="822.80" y1="105.93" x2="817.80" y2="105.93"/>
<line x1="149.80" y1="131.93" x2="157.80" y2="131.93"/>
<line x1="822.80" y1="131.93" x2="814.80" y2="131.93"/>
<line x1="149.80" y1="157.94" x2="154.80" y2="157.94"/>
<line x1="822.80" y1="157.94" x2="817.80" y2="157.94"/>
<line x1="149.80" y1="183.94" x2="157.80" y2="183.94"/>
<line x1="822.80" y1="183.94" x2="814.80" y2="183.94"/>
<line x1="149.80" y1="209.95" x2="154.80" y2="209.95"/>
<line x1="822.80" y1="209.95" x2="817.80" y2="209.95"/>
<line x1="149.80" y1="235.96" x2="157.80" y2="235.96"/>
<line x1="822.80" y1="235.96" x2="814.80" y2="235.96"/>
<line x1="149.80" y1="261.96" x2="154.80" y2="261.96"/>
<line x1="822.80" y1="261.96" x2="817.80" y2="261.96"/>
<line x1="149.80" y1="287.97" x2="157.80" y2="287.97"/>
<line x1="822.80" y1="287.97" x2="814.80" y2="287.97"/>
<line x1="149.80" y1="313.98" x2="154.80" y2="313.98"/>
<line x1="822.80" y1="313.98" x2="817.80" y2="313.98"/>
<line x1="149.80" y1="339.98" x2="157.80" y2="339.98"/>
<line x1="822.80" y1="339.98" x2="814.80" y2="339.98"/>
<line x1="149.80" y1="365.99" x2="154.80" y2="365.99"/>
<line x1="822.80" y1="365.99" x2="817.80" y2="365.99"/>
<line x1="149.80" y1="391.99" x2="157.80" y2="391.99"/>
<line x1="822.80" y1="391.99" x2="814.80" y2="391.99"/>
</g>
<g fill="none">
<line x1="425.0" y1="32.1" x2="526.0" y2="32.1" stroke="#ed1c24" stroke-width="4.0"/>
<line x1="425.4" y1="78.5" x2="526.0" y2="78.5" stroke="#9e4000" stroke-width="4.1" stroke-linecap="round" stroke-dasharray="12.6 14.3"/>
<line x1="629.7" y1="32.2" x2="730.6" y2="32.2" stroke="#347e2b" stroke-width="3.9" stroke-linecap="round" stroke-dasharray="0.01 13.44 13.54 13.33"/>
<line x1="629.7" y1="78.6" x2="730.6" y2="78.6" stroke="#2b2b92" stroke-width="4.3" stroke-linecap="round" stroke-dasharray="3 10.5 3 14.0 12.6 13.9"/>
<line x1="629.7" y1="124.9" x2="730.6" y2="124.9" stroke="#b02c18" stroke-width="3.7" stroke-linecap="round" stroke-dasharray="0.01 13.41"/>
</g>
<g font-family="'Liberation Serif', serif" fill="#000" stroke="#fff" paint-order="fill stroke" opacity="0.999">
<text x="129.20" y="35.41" font-size="24.40" text-anchor="end" letter-spacing="-0.30" stroke-width="0.20">0.008</text>
<text x="129.20" y="87.42" font-size="24.40" text-anchor="end" letter-spacing="-0.30" stroke-width="0.20">0.006</text>
<text x="129.20" y="139.43" font-size="24.40" text-anchor="end" letter-spacing="-0.30" stroke-width="0.20">0.004</text>
<text x="129.20" y="191.44" font-size="24.40" text-anchor="end" letter-spacing="-0.30" stroke-width="0.20">0.002</text>
<text x="129.20" y="243.46" font-size="24.40" text-anchor="end" stroke-width="0.20">0</text>
<text x="129.20" y="295.47" font-size="24.40" text-anchor="end" letter-spacing="-0.30" stroke-width="0.20">0.002</text>
<line x1="59.8" y1="287.47" x2="73.6" y2="287.47" stroke="#000" stroke-width="1.05"/>
<text x="129.20" y="347.48" font-size="24.40" text-anchor="end" letter-spacing="-0.30" stroke-width="0.20">0.004</text>
<line x1="59.8" y1="339.48" x2="73.6" y2="339.48" stroke="#000" stroke-width="1.05"/>
<text x="129.20" y="399.49" font-size="24.40" text-anchor="end" letter-spacing="-0.30" stroke-width="0.20">0.006</text>
<line x1="59.8" y1="391.49" x2="73.6" y2="391.49" stroke="#000" stroke-width="1.05"/>
<text x="149.80" y="453.80" font-size="24.30" text-anchor="middle" stroke-width="0.19">0</text>
<text x="374.13" y="453.80" font-size="24.30" text-anchor="middle" stroke-width="0.19">1</text>
<text x="598.47" y="453.80" font-size="24.30" text-anchor="middle" stroke-width="0.19">2</text>
<text x="822.80" y="453.80" font-size="24.30" text-anchor="middle" stroke-width="0.19">3</text>
<text transform="translate(415.80,489.70) scale(1.130,1)" font-size="29.50" font-style="italic" stroke-width="0.21">Q</text>
<text x="438.80" y="478.60" font-size="18.30" stroke-width="0.15">2</text>
<text x="469.30" y="490.30" font-size="32.50" stroke-width="0.58">(</text>
<text x="479.00" y="489.70" font-size="29.50" letter-spacing="1.20" stroke-width="0.24">GeV</text>
<text x="535.30" y="478.60" font-size="18.30" stroke-width="0.15">2</text>
<text x="544.90" y="490.30" font-size="32.50" stroke-width="0.58">)</text>
<g transform="translate(31.3,350.8) rotate(-90)">
<text transform="translate(0.00,0.00) scale(0.900,1)" font-size="36.00" font-style="italic" stroke-width="0.32">F</text>
<text transform="translate(24.00,-13.00) scale(1.250,1)" font-size="23.00" font-style="italic" stroke-width="0.15">T</text>
<text x="22.50" y="7.80" font-size="22.00" stroke-width="0.18">1</text>
<text x="33.00" y="7.80" font-size="22.50" font-style="italic" stroke-width="0.18">p</text>
<text x="47.60" y="1.00" font-size="37.50" stroke-width="0.75">(</text>
<text transform="translate(58.50,0.00) scale(1.100,1)" font-size="34.50" font-style="italic" stroke-width="0.25">Q</text>
<text x="85.50" y="-12.60" font-size="22.50" stroke-width="0.18">2</text>
<text x="97.60" y="1.00" font-size="37.50" stroke-width="0.75">)</text>
<line x1="122.3" y1="-9.5" x2="138.6" y2="-9.5" stroke="#000" stroke-width="0.85"/>
<text x="150.60" y="0.00" font-size="34.50" letter-spacing="0.65" stroke-width="0.28">diagrams</text>
</g>
<text transform="translate(540.50,38.70) scale(1.080,1)" font-size="24.60" font-style="italic" stroke-width="0.18">F</text><text x="559.00" y="26.80" font-size="16.30" font-style="italic" stroke-width="0.13">s</text><text x="568.00" y="26.80" font-size="16.30" stroke-width="0.13">,</text><text transform="translate(573.00,26.80) scale(1.250,1)" font-size="16.30" font-style="italic" stroke-width="0.10">T</text><text x="555.50" y="44.60" font-size="16.30" stroke-width="0.13">1</text><path transform="translate(540.50,39.50)" d="M27.5 1.9C27.1 -1.2 29.3 -5.5 34.1 -5.6C37.5 -5.6 38.3 -2.2 37.4 0.8C36.3 4.3 31.5 6.9 28.1 6.7C26.3 6.5 26.5 5.6 28 5.5C32 5.1 33.5 7.6 36.5 7.7C37.8 7.7 38.7 7.3 39.3 6.6" fill="none" stroke="#000" stroke-width="1.1" stroke-linecap="round" stroke-linejoin="round"/><text x="582.00" y="44.60" font-size="16.30" stroke-width="0.13">,</text><text transform="translate(586.00,44.60) scale(1.150,1)" font-size="16.30" font-style="italic" stroke-width="0.11">p</text>
<text transform="translate(540.50,85.20) scale(1.080,1)" font-size="24.60" font-style="italic" stroke-width="0.18">F</text><text x="559.00" y="73.30" font-size="16.30" font-style="italic" stroke-width="0.13">a</text><text x="569.00" y="73.30" font-size="16.30" stroke-width="0.13">,</text><text transform="translate(574.00,73.30) scale(1.250,1)" font-size="16.30" font-style="italic" stroke-width="0.10">T</text><text x="555.50" y="91.10" font-size="16.30" stroke-width="0.13">1</text><path transform="translate(540.50,86.00)" d="M27.5 1.9C27.1 -1.2 29.3 -5.5 34.1 -5.6C37.5 -5.6 38.3 -2.2 37.4 0.8C36.3 4.3 31.5 6.9 28.1 6.7C26.3 6.5 26.5 5.6 28 5.5C32 5.1 33.5 7.6 36.5 7.7C37.8 7.7 38.7 7.3 39.3 6.6" fill="none" stroke="#000" stroke-width="1.1" stroke-linecap="round" stroke-linejoin="round"/><text x="582.00" y="91.10" font-size="16.30" stroke-width="0.13">,</text><text transform="translate(586.00,91.10) scale(1.150,1)" font-size="16.30" font-style="italic" stroke-width="0.11">p</text>
<text transform="translate(745.50,38.70) scale(1.080,1)" font-size="24.60" font-style="italic" stroke-width="0.18">F</text><text x="764.00" y="26.80" font-size="16.30" font-style="italic" stroke-width="0.13">s</text><text x="773.00" y="26.80" font-size="16.30" stroke-width="0.13">,</text><text transform="translate(778.00,26.80) scale(1.250,1)" font-size="16.30" font-style="italic" stroke-width="0.10">T</text><text x="760.50" y="44.60" font-size="16.30" stroke-width="0.13">1</text><path transform="translate(745.50,39.20)" d="M24.3 -3.1C26 -4.8 30 -5 33.3 -5C37 -4.9 38.4 -2.7 37.7 -0.1C36.7 3.7 32 5.9 28.5 5.9L25.4 5.9M29.7 -4.5L26.7 5.7" fill="none" stroke="#000" stroke-width="1.1" stroke-linecap="round" stroke-linejoin="round"/><text x="786.00" y="44.60" font-size="16.30" stroke-width="0.13">,</text><text transform="translate(790.00,44.60) scale(1.150,1)" font-size="16.30" font-style="italic" stroke-width="0.11">p</text>
<text transform="translate(745.50,85.20) scale(1.080,1)" font-size="24.60" font-style="italic" stroke-width="0.18">F</text><text x="764.00" y="73.30" font-size="16.30" font-style="italic" stroke-width="0.13">a</text><text x="774.00" y="73.30" font-size="16.30" stroke-width="0.13">,</text><text transform="translate(779.00,73.30) scale(1.250,1)" font-size="16.30" font-style="italic" stroke-width="0.10">T</text><text x="760.50" y="91.10" font-size="16.30" stroke-width="0.13">1</text><path transform="translate(745.50,85.70)" d="M24.3 -3.1C26 -4.8 30 -5 33.3 -5C37 -4.9 38.4 -2.7 37.7 -0.1C36.7 3.7 32 5.9 28.5 5.9L25.4 5.9M29.7 -4.5L26.7 5.7" fill="none" stroke="#000" stroke-width="1.1" stroke-linecap="round" stroke-linejoin="round"/><text x="786.00" y="91.10" font-size="16.30" stroke-width="0.13">,</text><text transform="translate(790.00,91.10) scale(1.150,1)" font-size="16.30" font-style="italic" stroke-width="0.11">p</text>
<text transform="translate(745.50,131.40) scale(1.080,1)" font-size="24.60" font-style="italic" stroke-width="0.18">F</text><text x="764.00" y="119.50" font-size="16.30" font-style="italic" stroke-width="0.13">s</text><text x="771.50" y="119.50" font-size="16.30" font-style="italic" stroke-width="0.13">a</text><text x="782.00" y="119.50" font-size="16.30" stroke-width="0.13">,</text><text transform="translate(787.00,119.50) scale(1.250,1)" font-size="16.30" font-style="italic" stroke-width="0.10">T</text><text x="760.50" y="137.30" font-size="16.30" stroke-width="0.13">1</text><path transform="translate(745.50,131.90)" d="M24.3 -3.1C26 -4.8 30 -5 33.3 -5C37 -4.9 38.4 -2.7 37.7 -0.1C36.7 3.7 32 5.9 28.5 5.9L25.4 5.9M29.7 -4.5L26.7 5.7" fill="none" stroke="#000" stroke-width="1.1" stroke-linecap="round" stroke-linejoin="round"/><text x="786.00" y="137.30" font-size="16.30" stroke-width="0.13">,</text><text transform="translate(790.00,137.30) scale(1.150,1)" font-size="16.30" font-style="italic" stroke-width="0.11">p</text>
</g>
</svg>
</body></html>
